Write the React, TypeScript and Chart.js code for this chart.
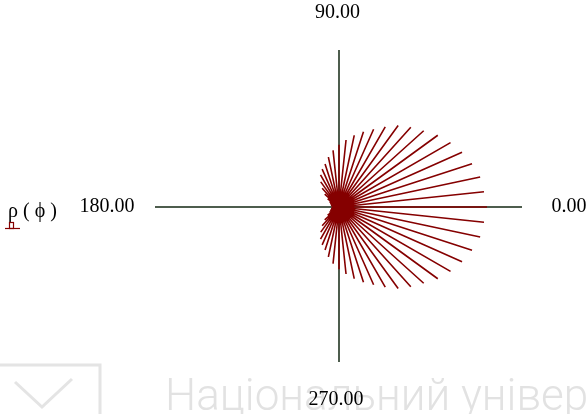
import React, { useEffect, useRef } from 'react';
import { Chart, registerables } from 'chart.js';
Chart.register(...registerables);

// angle of each ray, degrees
const phiDeg = [
  0, 6, 12, 18, 24, 30, 36, 42, 48, 54, 60, 66, 72, 78, 84, 90, 96, 102, 108, 114,
  120, 126, 132, 138, 144, 150, 156, 162, 168, 174, 180, 186, 192, 198, 204, 210, 216, 222, 228, 234,
  240, 246, 252, 258, 264, 270, 276, 282, 288, 294, 300, 306, 312, 318, 324, 330, 336, 342, 348, 354,
];
// ρ(φ) for each ray
const rhoValues = [
  2.0, 1.97, 1.95, 1.89, 1.82, 1.74, 1.65, 1.54, 1.45, 1.36, 1.25, 1.15, 1.07, 0.99, 0.91, 0.84, 0.77, 0.69, 0.61, 0.56,
  0.5, 0.42, 0.34, 0.26, 0.19, 0.15, 0.13, 0.12, 0.11, 0.1, 0.1, 0.1, 0.11, 0.12, 0.13, 0.15, 0.19, 0.26, 0.34, 0.42,
  0.5, 0.56, 0.61, 0.69, 0.77, 0.84, 0.91, 0.99, 1.07, 1.15, 1.25, 1.36, 1.45, 1.54, 1.65, 1.74, 1.82, 1.89, 1.95, 1.97,
];
const angleLabels = ['0.00', '90.00', '180.00', '270.00'];
const legendLabel = 'ρ ( ϕ )';
const watermarkText = 'Національний університет';

const RAY_COLOR = '#850000';
const AXIS_COLOR = '#142814';

export default function App() {
  const ref = useRef<HTMLCanvasElement | null>(null);

  useEffect(() => {
    const canvas = ref.current;
    if (!canvas) return;
    const pts: { x: number; y: number }[] = [];
    for (let i = 0; i < phiDeg.length; i++) {
      const a = (phiDeg[i] * Math.PI) / 180;
      pts.push({ x: 0, y: 0 });
      pts.push({ x: rhoValues[i] * Math.cos(a), y: rhoValues[i] * Math.sin(a) });
    }

    const decor = {
      id: 'decor',
      beforeDraw(chart: any) {
        const ctx = chart.ctx;
        ctx.save();
        ctx.fillStyle = '#ffffff';
        ctx.fillRect(0, 0, chart.width, chart.height);
        // watermark
        ctx.strokeStyle = '#e4e4e4';
        ctx.lineWidth = 3;
        ctx.beginPath();
        ctx.moveTo(-5, 365);
        ctx.lineTo(100, 365);
        ctx.lineTo(100, 420);
        ctx.stroke();
        ctx.beginPath();
        ctx.moveTo(15, 382);
        ctx.lineTo(42, 407);
        ctx.lineTo(72, 379);
        ctx.stroke();
        ctx.fillStyle = '#e2e2e2';
        ctx.font = '300 44px Roboto';
        ctx.textAlign = 'left';
        ctx.textBaseline = 'alphabetic';
        ctx.fillText(watermarkText, 165, 410);
        ctx.restore();
      },
      beforeDatasetsDraw(chart: any) {
        const ctx = chart.ctx;
        const { left, right, top, bottom } = chart.chartArea;
        const cx = chart.scales.x.getPixelForValue(0);
        const cy = chart.scales.y.getPixelForValue(0);
        ctx.save();
        ctx.strokeStyle = AXIS_COLOR;
        ctx.lineWidth = 1.5;
        ctx.beginPath();
        ctx.moveTo(left, cy);
        ctx.lineTo(right, cy);
        ctx.moveTo(cx, top);
        ctx.lineTo(cx, bottom);
        ctx.stroke();
        ctx.restore();
      },
      afterDraw(chart: any) {
        const ctx = chart.ctx;
        const { left, right, top, bottom } = chart.chartArea;
        const cx = chart.scales.x.getPixelForValue(0);
        const cy = chart.scales.y.getPixelForValue(0);
        ctx.save();
        ctx.fillStyle = '#000000';
        ctx.font = '20px "Liberation Serif"';
        ctx.textBaseline = 'middle';
        ctx.textAlign = 'center';
        ctx.fillText(angleLabels[1], cx - 1.5, top - 37);
        ctx.fillText(angleLabels[3], cx - 3, bottom + 38);
        ctx.fillText(angleLabels[0], right + 47, cy);
        ctx.fillText(angleLabels[2], left - 48, cy);
        // legend
        ctx.textAlign = 'left';
        ctx.font = '20px "Liberation Serif"';
        ctx.fillText(legendLabel, 8, cy + 5);
        ctx.strokeStyle = RAY_COLOR;
        ctx.lineWidth = 1.2;
        ctx.beginPath();
        ctx.moveTo(5, cy + 21.5);
        ctx.lineTo(20, cy + 21.5);
        ctx.stroke();
        ctx.strokeRect(9.5, cy + 15.5, 4, 6);
        ctx.restore();
      },
    };

    const chart = new Chart(canvas, {
      type: 'scatter',
      data: {
        datasets: [
          {
            label: legendLabel,
            data: pts,
            showLine: true,
            borderColor: RAY_COLOR,
            borderWidth: 1.6,
            pointRadius: 0,
            tension: 0,
          },
        ],
      },
      options: {
        animation: false,
        responsive: false,
        layout: { padding: { left: 155, right: 66, top: 50, bottom: 52 } },
        plugins: { legend: { display: false }, tooltip: { enabled: false } },
        scales: {
          x: { type: 'linear', display: false, min: -184 / 74, max: 183 / 74 },
          y: { type: 'linear', display: false, min: -155 / 74, max: 157 / 74 },
        },
      },
      plugins: [decor],
    });
    return () => chart.destroy();
  }, []);

  return (
    <div style={{ position: 'fixed', left: 0, top: 0, width: 588, height: 414 }}>
      <canvas ref={ref} width={588} height={414} />
    </div>
  );
}
